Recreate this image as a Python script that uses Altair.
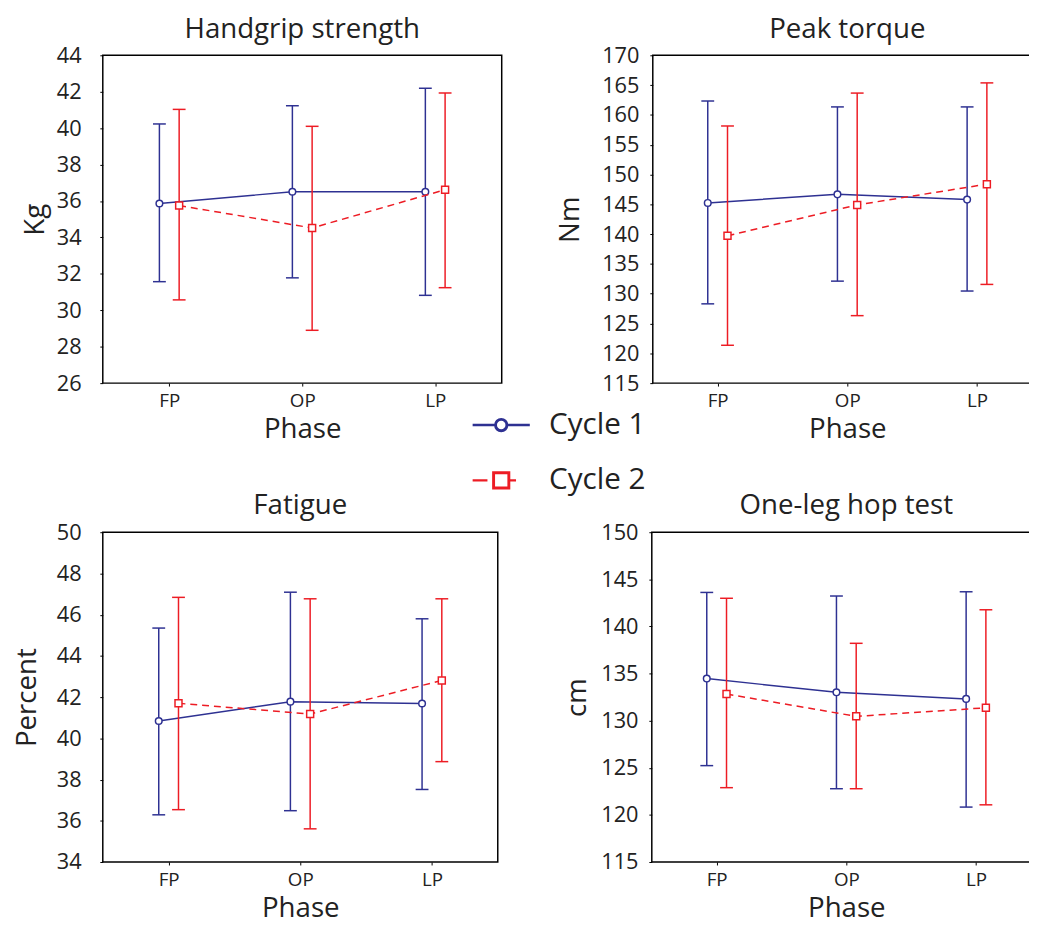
import altair as alt
import pandas as pd

FONT = "Open Sans"
phases = ["FP", "OP", "LP"]
cycles = ["Cycle 1", "Cycle 2"]
colors = ["#2E3192", "#ED1C24"]

# Handgrip strength (Kg)
hand_c1_mean = [35.86, 36.51, 36.51]
hand_c1_lo = [31.57, 31.78, 30.82]
hand_c1_hi = [40.23, 41.23, 42.19]
hand_c2_mean = [35.75, 34.52, 36.62]
hand_c2_lo = [30.57, 28.90, 31.24]
hand_c2_hi = [41.03, 40.10, 41.93]
hand_ticks = [26, 28, 30, 32, 34, 36, 38, 40, 42, 44]

# Peak torque (Nm)
torque_c1_mean = [145.23, 146.67, 145.79]
torque_c1_lo = [128.30, 132.11, 130.45]
torque_c1_hi = [162.33, 161.34, 161.34]
torque_c2_mean = [139.72, 144.90, 148.38]
torque_c2_lo = [121.35, 126.32, 131.56]
torque_c2_hi = [158.14, 163.66, 165.37]
torque_ticks = [115, 120, 125, 130, 135, 140, 145, 150, 155, 160, 165, 170]

# Fatigue (Percent)
fat_c1_mean = [40.84, 41.78, 41.69]
fat_c1_lo = [36.29, 36.49, 37.52]
fat_c1_hi = [45.35, 47.09, 45.80]
fat_c2_mean = [41.70, 41.18, 42.81]
fat_c2_lo = [36.54, 35.61, 38.87]
fat_c2_hi = [46.84, 46.77, 46.77]
fat_ticks = [34, 36, 38, 40, 42, 44, 46, 48, 50]

# One-leg hop test (cm)
hop_c1_mean = [134.47, 133.01, 132.31]
hop_c1_lo = [125.23, 122.78, 120.83]
hop_c1_hi = [143.61, 143.23, 143.68]
hop_c2_mean = [132.83, 130.46, 131.37]
hop_c2_lo = [122.89, 122.78, 121.07]
hop_c2_hi = [142.99, 138.21, 141.77]
hop_ticks = [115, 120, 125, 130, 135, 140, 145, 150]

cscale = alt.Scale(domain=cycles, range=colors)

# legend glyphs: line + hollow circle, dashed line + hollow square (ring shapes so fill never hides the hole)
legend_paths = [
    "M-1.93,0L-0.4,0M0.4,0L1.93,0"
    "M-0.4,0A0.4,0.4,0,1,1,0.4,0A0.4,0.4,0,1,1,-0.4,0Z"
    "M-0.37,0A0.37,0.37,0,1,0,0.37,0A0.37,0.37,0,1,0,-0.37,0Z",
    "M-1.93,0L-0.93,0M0.53,0L1.0,0"
    "M-0.53,-0.53L0.53,-0.53L0.53,0.53L-0.53,0.53Z"
    "M-0.5,-0.5L-0.5,0.5L0.5,0.5L0.5,-0.5Z",
]


def make_df(c1, c2):
    rows = []
    for cyc, (m, lo, hi) in zip(cycles, [c1, c2]):
        for p, a, b, c in zip(phases, m, lo, hi):
            rows.append({"phase": p, "cycle": cyc, "mean": a, "lo": b, "hi": c})
    return pd.DataFrame(rows)


def panel(title, ytitle, c1, c2, ticks, width, height, lab_pad, title_pad, with_legend=False):
    df = make_df(c1, c2)
    x = alt.X(
        "phase:N",
        sort=phases,
        scale=alt.Scale(type="point", padding=0.5),
        axis=alt.Axis(
            title="Phase", labelAngle=0, labelFont=FONT, labelFontSize=19,
            titleFont=FONT, titleFontSize=28, titleFontWeight="normal",
            labelColor="#222", titleColor="#222", domain=False,
            tickSize=3, tickColor="black", labelPadding=6, titlePadding=5,
        ),
    )
    yscale = alt.Scale(domain=[ticks[0], ticks[-1]], nice=False, zero=False)
    yaxis = alt.Axis(
        title=ytitle, values=ticks, grid=False, domain=False, tickSize=3,
        tickColor="black", labelFont=FONT, labelFontSize=22, labelColor="#222",
        titleFont=FONT, titleFontSize=28, titleFontWeight="normal", titleColor="#222",
        labelPadding=lab_pad, titlePadding=title_pad,
    )
    color = alt.Color("cycle:N", scale=cscale, legend=None)
    fill = alt.Fill("cycle:N", scale=cscale, legend=None)
    layers = []
    if with_legend:
        leg_common = dict(
            orient="none", legendX=387, legendY=358, title=None,
            labelFont=FONT, labelFontSize=30, labelColor="#222",
            symbolSize=900, symbolStrokeWidth=2.5, labelOffset=32, rowPadding=24,
            direction="vertical", symbolFillColor="white", symbolOpacity=1,
        )
        layers.append(
            alt.Chart(df).transform_filter("false").mark_point(filled=False, strokeWidth=2.5, opacity=1).encode(
                x=x, y=alt.Y("mean:Q", scale=yscale, axis=yaxis),
                stroke=alt.Stroke("cycle:N", scale=cscale, legend=alt.Legend(**leg_common)),
                shape=alt.Shape("cycle:N", scale=alt.Scale(domain=cycles, range=legend_paths),
                                legend=alt.Legend(**leg_common)),
            )
        )
    for cyc, off, dash, shape, sz in [
        ("Cycle 1", -10, None, "circle", 45),
        ("Cycle 2", 10, [7, 5], "square", 50),
    ]:
        base = alt.Chart(df).transform_filter(alt.datum.cycle == cyc)
        layers.append(
            base.mark_rule(xOffset=off, strokeWidth=1.5).encode(
                x=x, y=alt.Y("lo:Q", scale=yscale, axis=yaxis), y2="hi:Q", color=color
            )
        )
        for fld in ["lo", "hi"]:
            layers.append(
                base.mark_tick(xOffset=off, size=13, thickness=1.5, orient="horizontal", opacity=1).encode(
                    x=x, y=alt.Y(f"{fld}:Q", scale=yscale, axis=yaxis), fill=fill
                )
            )
        line_kw = dict(xOffset=off, strokeWidth=1.5)
        if dash:
            line_kw["strokeDash"] = dash
        layers.append(
            base.mark_line(**line_kw).encode(
                x=x, y=alt.Y("mean:Q", scale=yscale, axis=yaxis), color=color
            )
        )
        layers.append(
            base.mark_point(xOffset=off, shape=shape, size=sz, filled=False, fill="white",
                            strokeWidth=1.5, opacity=1).encode(
                x=x, y=alt.Y("mean:Q", scale=yscale, axis=yaxis), color=color
            )
        )
    return alt.layer(*layers).properties(
        width=width, height=height,
        title=alt.TitleParams(title, font=FONT, fontSize=28, fontWeight="normal", color="#222", offset=1),
    )


p1 = panel("Handgrip strength", "Kg", (hand_c1_mean, hand_c1_lo, hand_c1_hi),
           (hand_c2_mean, hand_c2_lo, hand_c2_hi), hand_ticks, 404, 332, 19, 7, with_legend=True)
p2 = panel("Peak torque", "Nm", (torque_c1_mean, torque_c1_lo, torque_c1_hi),
           (torque_c2_mean, torque_c2_lo, torque_c2_hi), torque_ticks, 394, 332, 11, 17)
p3 = panel("Fatigue", "Percent", (fat_c1_mean, fat_c1_lo, fat_c1_hi),
           (fat_c2_mean, fat_c2_lo, fat_c2_hi), fat_ticks, 400, 334, 19, 15)
p4 = panel("One-leg hop test", "cm", (hop_c1_mean, hop_c1_lo, hop_c1_hi),
           (hop_c2_mean, hop_c2_lo, hop_c2_hi), hop_ticks, 394, 334, 11, 9)

chart = alt.vconcat(
    alt.hconcat(p1, p2, spacing=54),
    alt.hconcat(p3, p4, spacing=65),
    spacing=48,
).properties(
    padding={"left": 5, "top": 1, "right": -14, "bottom": 5},
    background="white",
).configure_view(
    stroke="black", strokeWidth=1.5
)

chart.save("out.html", embed_options={"renderer": "svg", "actions": False})
